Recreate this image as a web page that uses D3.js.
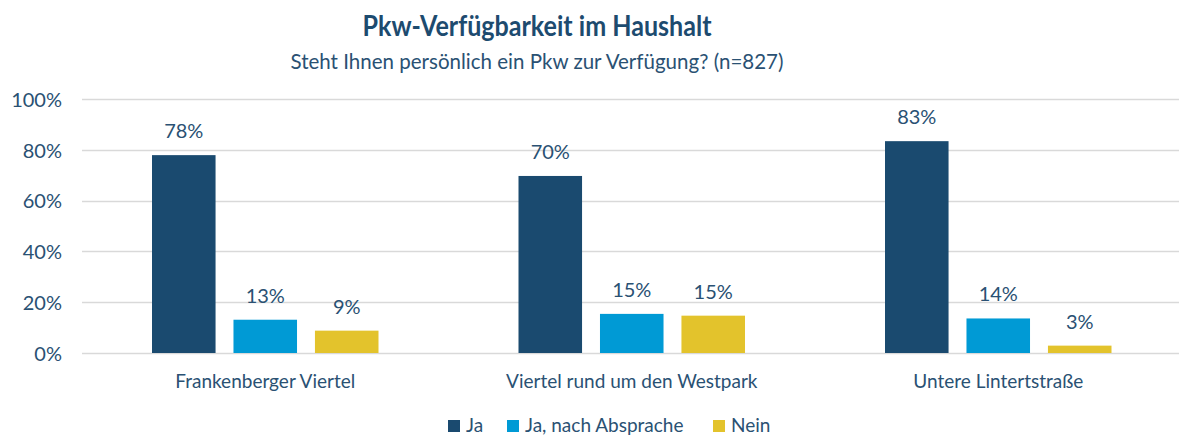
<!DOCTYPE html>
<html>
<head>
<meta charset="utf-8">
<script src="https://cdn.jsdelivr.net/npm/d3@7"></script>
<style>
  html, body { margin: 0; padding: 0; background: #fff; }
  svg { display: block; font-family: Lato, "Noto Sans", sans-serif; }
</style>
</head>
<body>
<svg id="chart" width="1179" height="437"></svg>
<script>
const categories = ["Frankenberger Viertel", "Viertel rund um den Westpark", "Untere Lintertstraße"];
const seriesNames = ["Ja", "Ja, nach Absprache", "Nein"];
const valuesJa = [77.9, 69.7, 83.4];
const valuesAbsprache = [13.1, 15.4, 13.6];
const valuesNein = [8.8, 14.7, 2.9];
const labelsJa = ["78%", "70%", "83%"];
const labelsAbsprache = ["13%", "15%", "14%"];
const labelsNein = ["9%", "15%", "3%"];
const yTicks = [0, 20, 40, 60, 80, 100];
const colors = ["#1a4a6f", "#009ad5", "#e3c32c"];
const titleText = "Pkw-Verfügbarkeit im Haushalt";
const subtitleText = "Steht Ihnen persönlich ein Pkw zur Verfügung? (n=827)";

const seriesValues = [valuesJa, valuesAbsprache, valuesNein];
const seriesLabels = [labelsJa, labelsAbsprache, labelsNein];
const textColor = "#2a5173";

const svg = d3.select("#chart");
const W = 1179;
const plotLeft = 82, plotRight = 1181.5;
const y = d3.scaleLinear().domain([0, 100]).range([353, 99]);
const x0 = d3.scaleBand().domain(categories).range([plotLeft, plotRight]).padding(0);
const bw = x0.bandwidth();
const x1 = d3.scaleBand().domain(seriesNames).range([70, bw - 70]).paddingInner(0.22).paddingOuter(0);

// Title
svg.append("text").attr("x", 537).attr("y", 36).attr("text-anchor", "middle")
  .attr("font-size", 28).attr("font-weight", 700).attr("fill", "#1d4b6f")
  .attr("textLength", 349).attr("lengthAdjust", "spacingAndGlyphs").text(titleText);
svg.append("text").attr("x", 537).attr("y", 69).attr("text-anchor", "middle")
  .attr("font-size", 22).attr("fill", textColor)
  .attr("textLength", 493).attr("lengthAdjust", "spacingAndGlyphs").text(subtitleText);

// Gridlines
svg.append("g").selectAll("line").data(yTicks).join("line")
  .attr("x1", plotLeft).attr("x2", W)
  .attr("y1", d => Math.round(y(d)) + 0.5).attr("y2", d => Math.round(y(d)) + 0.5)
  .attr("stroke", "#d9d9d9").attr("stroke-width", 1.6);

// Y axis labels
const yAxis = d3.axisLeft(y).tickValues(yTicks).tickFormat(d => d + "%").tickSize(0).tickPadding(0);
const yg = svg.append("g").attr("transform", "translate(62,0)").call(yAxis);
yg.select(".domain").remove();
yg.selectAll("text").attr("font-size", 20).attr("fill", textColor).attr("font-family", "Lato, sans-serif").attr("dy", "0.36em");

// Bars
const data = [];
categories.forEach((c, i) => seriesNames.forEach((s, j) => data.push({ c, s, j, v: seriesValues[j][i], l: seriesLabels[j][i] })));

const g = svg.append("g");
g.selectAll("rect").data(data).join("rect")
  .attr("x", d => x0(d.c) + x1(d.s))
  .attr("y", d => y(d.v))
  .attr("width", x1.bandwidth())
  .attr("height", d => y(0) - y(d.v))
  .attr("fill", d => colors[d.j]);

g.selectAll("text.val").data(data).join("text").attr("class", "val")
  .attr("x", d => x0(d.c) + x1(d.s) + x1.bandwidth() / 2)
  .attr("y", d => y(d.v) - 17)
  .attr("text-anchor", "middle").attr("font-size", 20).attr("fill", textColor)
  .text(d => d.l);

// X axis labels
const xAxis = d3.axisBottom(x0).tickSize(0).tickPadding(0);
const xg = svg.append("g").attr("transform", "translate(0,388)").call(xAxis);
xg.select(".domain").remove();
xg.selectAll("text").attr("font-size", 19).attr("fill", textColor).attr("font-family", "Lato, sans-serif").attr("dy", 0);

// Legend
const legendX = [448, 507, 713];
const leg = svg.append("g");
seriesNames.forEach((s, j) => {
  leg.append("rect").attr("x", legendX[j]).attr("y", 420).attr("width", 12).attr("height", 12).attr("fill", colors[j]);
  leg.append("text").attr("x", legendX[j] + 18).attr("y", 432).attr("font-size", 19).attr("fill", textColor).text(s);
});
</script>
</body>
</html>
